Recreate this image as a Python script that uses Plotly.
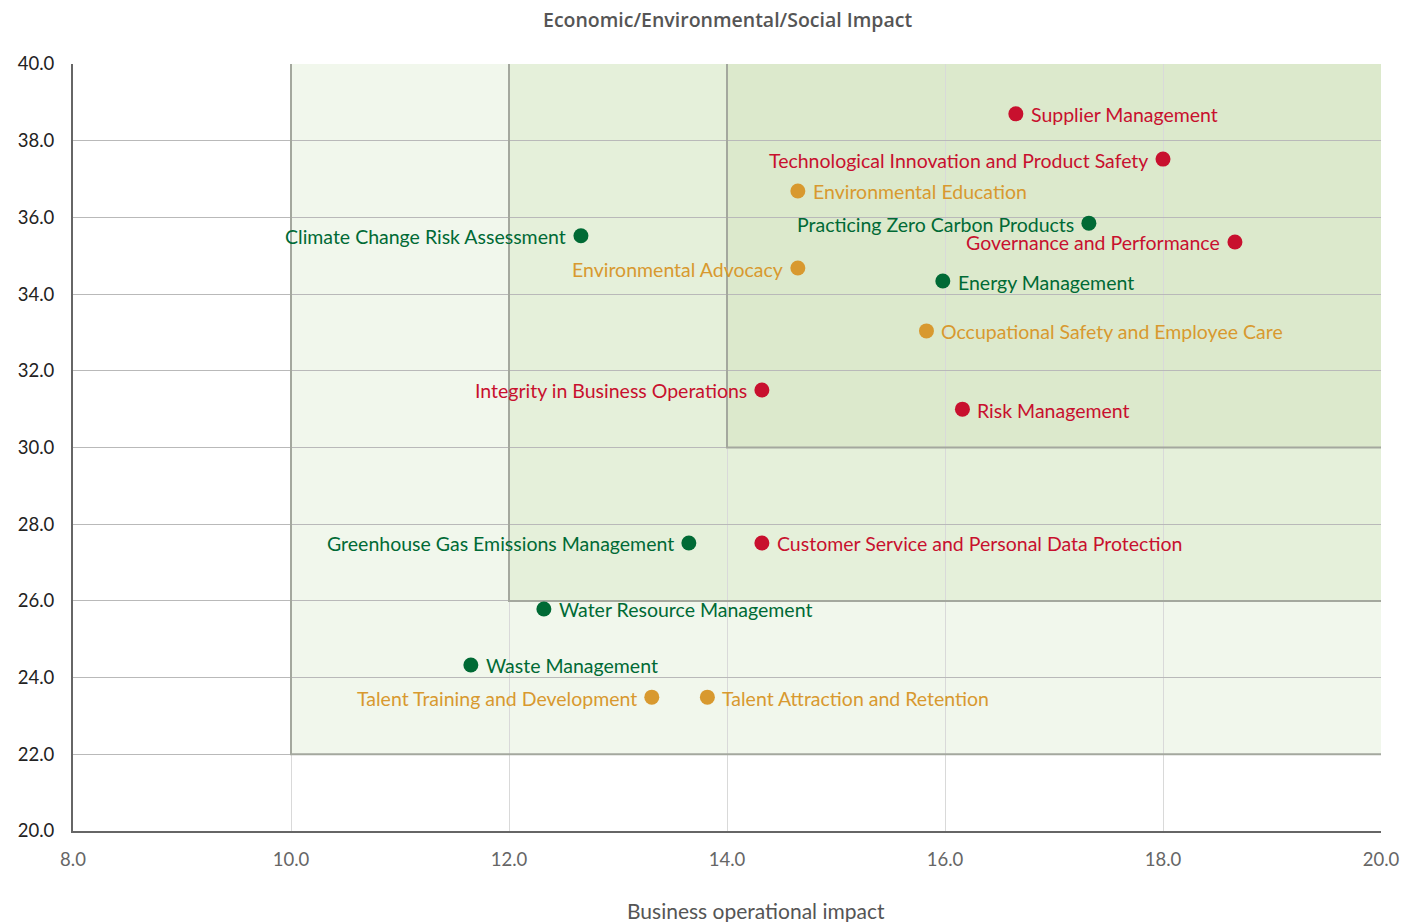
import plotly.graph_objects as go

# Material topics: business impact (x) vs economic/environmental/social impact (y)
topics = [
    "Supplier Management",
    "Technological Innovation and Product Safety",
    "Environmental Education",
    "Practicing Zero Carbon Products",
    "Climate Change Risk Assessment",
    "Governance and Performance",
    "Environmental Advocacy",
    "Energy Management",
    "Occupational Safety and Employee Care",
    "Integrity in Business Operations",
    "Risk Management",
    "Greenhouse Gas Emissions Management",
    "Customer Service and Personal Data Protection",
    "Water Resource Management",
    "Waste Management",
    "Talent Training and Development",
    "Talent Attraction and Retention",
]
business_impact = [16.65, 18.0, 14.65, 17.32, 12.66, 18.66, 14.65, 15.98, 15.83,
                   14.32, 16.16, 13.65, 14.32, 12.32, 11.65, 13.31, 13.82]
esg_impact = [38.70, 37.52, 36.69, 35.85, 35.52, 35.36, 34.68, 34.34, 33.04,
              31.50, 31.00, 27.51, 27.51, 25.79, 24.33, 23.49, 23.49]
category = ["Governance", "Governance", "Social", "Environment", "Environment",
            "Governance", "Social", "Environment", "Social", "Governance",
            "Governance", "Environment", "Governance", "Environment",
            "Environment", "Social", "Social"]

# Topics whose label sits on the left of the marker
left_labels = {
    "Technological Innovation and Product Safety",
    "Practicing Zero Carbon Products",
    "Climate Change Risk Assessment",
    "Governance and Performance",
    "Environmental Advocacy",
    "Integrity in Business Operations",
    "Greenhouse Gas Emissions Management",
    "Talent Training and Development",
}

colors = {"Governance": "#c8102e", "Social": "#d8992f", "Environment": "#006a35"}
FONT = "Lato"

fig = go.Figure()
for cat in ["Environment", "Social", "Governance"]:
    idx = [i for i, c in enumerate(category) if c == cat]
    fig.add_trace(go.Scatter(
        x=[business_impact[i] for i in idx],
        y=[esg_impact[i] for i in idx],
        text=[topics[i] for i in idx],
        mode="markers",
        marker=dict(size=15, color=colors[cat]),
        hoverinfo="text",
        showlegend=False,
        cliponaxis=False,
    ))

# Topic labels beside each marker
annotations = []
for name, xv, yv, cat in zip(topics, business_impact, esg_impact, category):
    left = name in left_labels
    annotations.append(dict(
        text=name, x=xv, y=yv, xref="x", yref="y", showarrow=False,
        xanchor="right" if left else "left", yanchor="middle",
        xshift=-13 if left else 13, yshift=-1,
        font=dict(family=FONT, size=19.5, color=colors[cat]),
    ))

annotations += [
    dict(text="Economic/Environmental/Social Impact", xref="paper", yref="paper",
         x=0.5, y=1, yshift=45, showarrow=False, xanchor="center", yanchor="middle",
         font=dict(family="Open Sans", size=19.5, color="#555", weight=600)),
    dict(text="Business operational impact", xref="paper", yref="paper",
         x=0.522, y=0, yshift=-79, showarrow=False, xanchor="center", yanchor="middle",
         font=dict(family=FONT, size=21, color="#555")),
]

# Nested priority zones (fills beneath grid lines)
zones = [
    (10, 22, "#f1f7ec"),
    (12, 26, "#e5f0da"),
    (14, 30, "#dce9cc"),
]
shapes = []
for x0, y0, fill in zones:
    shapes.append(dict(type="rect", xref="x", yref="y", x0=x0, x1=20, y0=y0, y1=40,
                       fillcolor=fill, line=dict(width=0), layer="below"))
for x0, y0, _ in zones:
    shapes.append(dict(type="path", xref="x", yref="y",
                       path=f"M {x0},40 L {x0},{y0} L 20,{y0}",
                       line=dict(color="#a4a89e", width=2), layer="between"))

fig.update_layout(
    width=1406, height=922,
    margin=dict(l=73, r=25, t=64, b=91),
    paper_bgcolor="white", plot_bgcolor="white",
    shapes=shapes,
    annotations=annotations,
    font=dict(family=FONT, size=17, color="#222"),
)
fig.update_xaxes(range=[8, 20], dtick=2, tickformat=".1f", showgrid=True,
                 gridcolor="#d9d9d9", gridwidth=1, zeroline=False,
                 showline=True, linecolor="#666", linewidth=2,
                 ticks="", ticklabelstandoff=11, automargin=False,
                 tickfont=dict(family=FONT, size=18.5, color="#666"))
fig.update_yaxes(range=[20, 40], dtick=2, tickformat=".1f", showgrid=True,
                 gridcolor="#b9b9b9", gridwidth=1, zeroline=False,
                 showline=True, linecolor="#666", linewidth=2,
                 ticks="", ticklabelstandoff=13, automargin=False,
                 tickfont=dict(family=FONT, size=18.5, color="#222"))

fig.write_html("out.html")
